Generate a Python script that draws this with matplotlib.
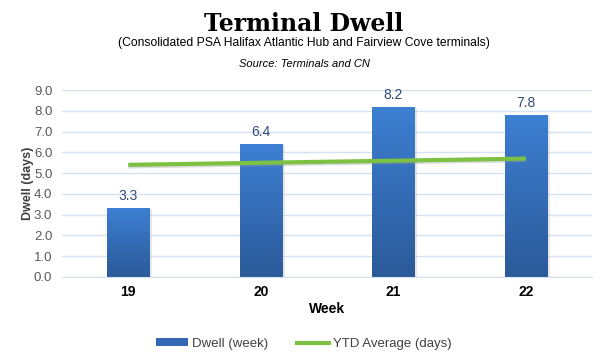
import matplotlib.pyplot as plt
import numpy as np
from matplotlib.colors import LinearSegmentedColormap
from matplotlib.lines import Line2D
from matplotlib.patches import Patch

plt.rcParams["font.family"] = ["Liberation Sans", "DejaVu Sans"]

weeks = ["19", "20", "21", "22"]
dwell = [3.3, 6.4, 8.2, 7.8]
ytd_avg = [5.4, 5.5, 5.6, 5.7]

fig = plt.figure(figsize=(6.08, 3.62), dpi=100)
ax = fig.add_axes([0.102, 0.235, 0.872, 0.516])

x = np.arange(len(weeks))
bar_w = 0.32
bars = ax.bar(x, dwell, width=bar_w, color="none", zorder=2)

# gradient fill for bars
cmap = LinearSegmentedColormap.from_list("blu", ["#2b5a99", "#3d7fd2"])
grad = np.linspace(0, 1, 256).reshape(-1, 1)
for b in bars:
    x0, y0 = b.get_x(), b.get_y()
    w, h = b.get_width(), b.get_height()
    # faint shadow
    ax.bar(x0 + w / 2 + 0.02, h, width=w, bottom=-0.05, color="#bfbfbf",
           alpha=0.35, zorder=1.5)
    im = ax.imshow(grad, extent=[x0, x0 + w, y0, y0 + h], origin="lower",
                   cmap=cmap, aspect="auto", zorder=2)
    im.set_clip_path(b)

for xi, v in zip(x, dwell):
    ax.text(xi, v + 0.25, f"{v:.1f}", ha="center", va="bottom",
            fontsize=10, color="#2f4a7a")

ax.plot(x, [v - 0.06 for v in ytd_avg], color="#999999", lw=3.5, alpha=0.35,
        zorder=2.5, solid_capstyle="butt")
ax.plot(x, ytd_avg, color="#7cc142", lw=3, zorder=3, solid_capstyle="butt")

ax.set_xlim(-0.5, 3.5)
ax.set_ylim(0, 9)
ax.set_yticks(np.arange(0, 9.1, 1.0))
ax.set_yticklabels([f"{v:.1f}" for v in np.arange(0, 9.1, 1.0)])
ax.set_xticks(x)
ax.set_xticklabels(weeks, fontweight="bold", fontsize=10)
ax.yaxis.grid(True, color="#d6e2f0", lw=1)
ax.set_axisbelow(True)
for s in ax.spines.values():
    s.set_visible(False)
ax.spines["bottom"].set_visible(True)
ax.spines["bottom"].set_color("#d6e2f0")
ax.tick_params(axis="both", length=0)
ax.tick_params(axis="y", labelsize=9.5, labelcolor="#595959", pad=7)
ax.tick_params(axis="x", pad=6)

ax.set_xlabel("Week", fontweight="bold", fontsize=10, labelpad=2)
ax.set_ylabel("Dwell (days)", fontweight="bold", fontsize=9, color="#404040",
              labelpad=0)

fig.text(0.5, 0.935, "Terminal Dwell", ha="center", va="center",
         fontsize=17, fontweight="bold", family="DejaVu Serif")
fig.text(0.5, 0.882, "(Consolidated PSA Halifax Atlantic Hub and Fairview Cove terminals)",
         ha="center", va="center", fontsize=8.7)
fig.text(0.5, 0.823, "Source: Terminals and CN", ha="center", va="center",
         fontsize=8, style="italic")

handles = [Patch(facecolor="#3468b5"),
           Line2D([0], [0], color="#7cc142", lw=3)]
fig.legend(handles, ["Dwell (week)", "YTD Average (days)"], loc="center",
           bbox_to_anchor=(0.5, 0.05), ncol=2, frameon=False, fontsize=9.5,
           handlelength=2.4, handleheight=0.5, columnspacing=2.2,
           handletextpad=0.3, labelcolor="#404040")

fig.savefig("out.png", dpi=100)
